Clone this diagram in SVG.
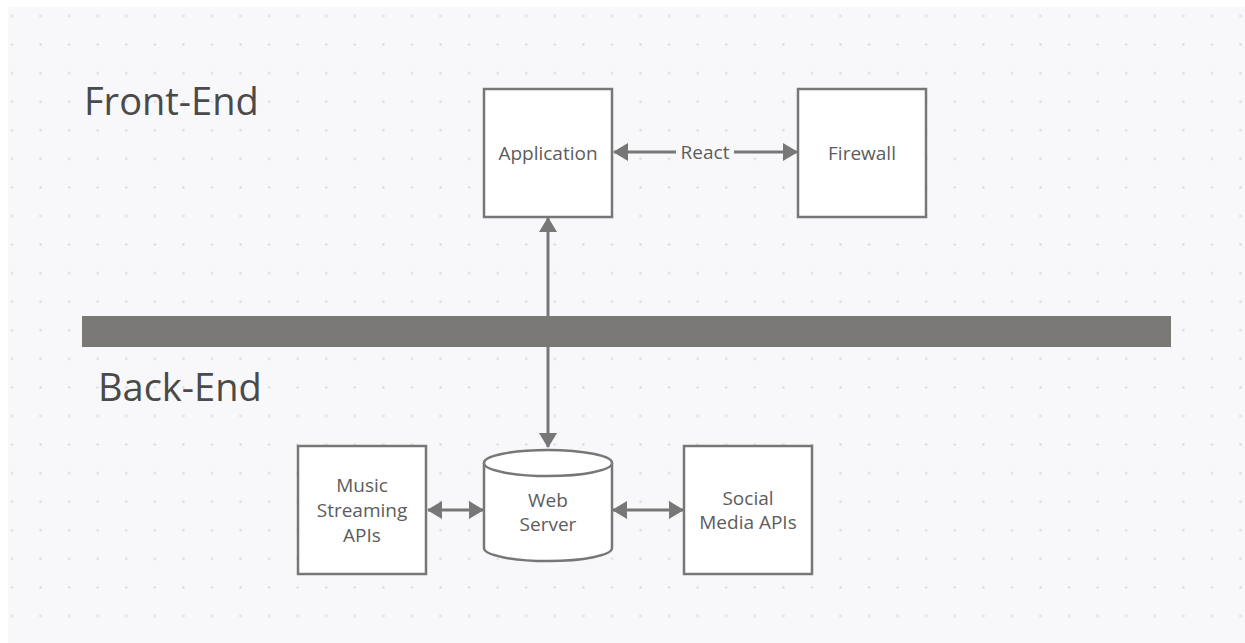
<svg xmlns="http://www.w3.org/2000/svg" width="1245" height="643" viewBox="0 0 1245 643">
  <defs>
    <pattern id="dots" x="-2.3" y="1.7" width="28.57" height="28.57" patternUnits="userSpaceOnUse">
      <circle cx="14.3" cy="14.3" r="1.3" fill="#dcdce0"/>
    </pattern>
    <marker id="arrow" viewBox="0 0 15 18" refX="14" refY="9" markerWidth="15" markerHeight="18" markerUnits="userSpaceOnUse" orient="auto-start-reverse">
      <path d="M0,0 L15,9 L0,18 Z" fill="#777777"/>
    </marker>
    <style>
      .box { fill: #ffffff; stroke: #777777; stroke-width: 2.5; }
      .conn { fill: none; stroke: #777777; stroke-width: 3; }
      .label { font-family: "Open Sans", "Noto Sans", "Liberation Sans", sans-serif; font-size: 19px; fill: #5c5c5c; text-anchor: middle; dominant-baseline: central; }
      .zone { font-family: "Open Sans", "Noto Sans", "Liberation Sans", sans-serif; font-size: 38px; fill: #4a4a4a; }
    </style>
  </defs>

  <!-- canvas -->
  <rect x="0" y="0" width="1245" height="643" fill="#ffffff"/>
  <rect x="8" y="7" width="1237" height="636" fill="#f8f8fa"/>
  <rect x="8" y="7" width="1237" height="636" fill="url(#dots)"/>

  <!-- zone titles -->
  <text class="zone" x="84" y="115">Front-End</text>
  <text class="zone" x="98" y="401">Back-End</text>

  <!-- divider bar -->
  <rect id="divider" x="82" y="316" width="1089" height="31" fill="#7a7977"/>

  <!-- connectors -->
  <g id="connectors">
    <line class="conn" x1="548" y1="316" x2="548" y2="218" marker-end="url(#arrow)"/>
    <line class="conn" x1="548" y1="347" x2="548" y2="447" marker-end="url(#arrow)"/>
    <line class="conn" x1="614" y1="152" x2="797" y2="152" marker-start="url(#arrow)" marker-end="url(#arrow)"/>
    <rect x="676" y="140" width="58" height="24" fill="#f8f8fa"/>
    <text class="label" x="705" y="152">React</text>
    <line class="conn" x1="428" y1="510" x2="483" y2="510" marker-start="url(#arrow)" marker-end="url(#arrow)"/>
    <line class="conn" x1="613" y1="510" x2="683" y2="510" marker-start="url(#arrow)" marker-end="url(#arrow)"/>
  </g>

  <!-- nodes -->
  <g id="application">
    <rect class="box" x="484" y="89" width="128" height="128"/>
    <text class="label" x="548" y="153">Application</text>
  </g>

  <g id="firewall">
    <rect class="box" x="798" y="89" width="128" height="128"/>
    <text class="label" x="862" y="153">Firewall</text>
  </g>

  <g id="music-apis">
    <rect class="box" x="298" y="446" width="128" height="128"/>
    <text class="label" x="362" y="485">Music</text>
    <text class="label" x="362" y="510">Streaming</text>
    <text class="label" x="362" y="535">APIs</text>
  </g>

  <g id="web-server">
    <path class="box" d="M484,463 L484,548 A64,13 0 0 0 612,548 L612,463 A64,13 0 0 0 484,463 Z"/>
    <path class="box" fill="none" d="M484,463 A64,13 0 0 0 612,463"/>
    <text class="label" x="548" y="500">Web</text>
    <text class="label" x="548" y="524">Server</text>
  </g>

  <g id="social-apis">
    <rect class="box" x="684" y="446" width="128" height="128"/>
    <text class="label" x="748" y="498">Social</text>
    <text class="label" x="748" y="522">Media APIs</text>
  </g>
</svg>
